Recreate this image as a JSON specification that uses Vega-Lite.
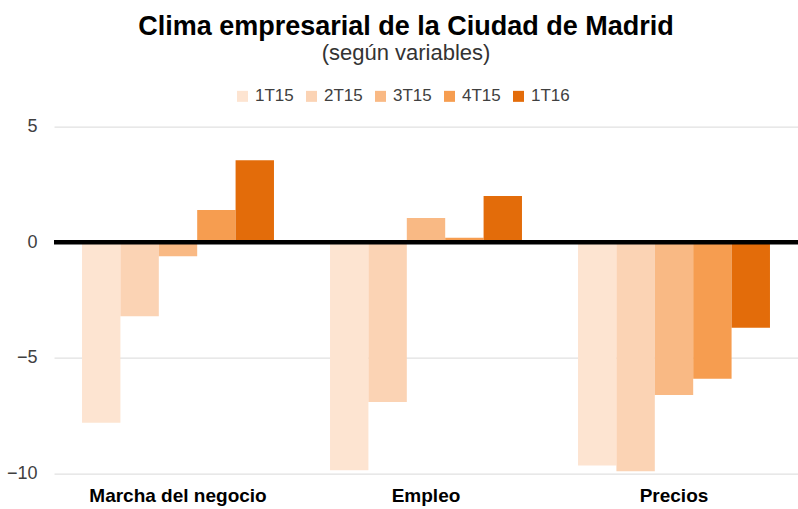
{
  "$schema": "https://vega.github.io/schema/vega-lite/v6.json",
  "width": 744,
  "height": 347,
  "autosize": {"type": "none"},
  "padding": {"left": 54, "top": 126.6, "right": 0, "bottom": 35.4},
  "background": "white",
  "title": {
    "text": "Clima empresarial de la Ciudad de Madrid",
    "subtitle": "(según variables)",
    "anchor": "middle",
    "dx": -20,
    "offset": 23,
    "font": "Liberation Sans",
    "fontSize": 27,
    "fontWeight": "bold",
    "color": "#000000",
    "subtitleFont": "Liberation Sans",
    "subtitleFontSize": 22,
    "subtitleColor": "#333333",
    "subtitlePadding": 2
  },
  "data": {
    "values": [
      {"variable": "Marcha del negocio", "periodo": "1T15", "valor": -7.8},
      {"variable": "Marcha del negocio", "periodo": "2T15", "valor": -3.2},
      {"variable": "Marcha del negocio", "periodo": "3T15", "valor": -0.6},
      {"variable": "Marcha del negocio", "periodo": "4T15", "valor": 1.4},
      {"variable": "Marcha del negocio", "periodo": "1T16", "valor": 3.55},
      {"variable": "Empleo", "periodo": "1T15", "valor": -9.85},
      {"variable": "Empleo", "periodo": "2T15", "valor": -6.9},
      {"variable": "Empleo", "periodo": "3T15", "valor": 1.05},
      {"variable": "Empleo", "periodo": "4T15", "valor": 0.2},
      {"variable": "Empleo", "periodo": "1T16", "valor": 2.0},
      {"variable": "Precios", "periodo": "1T15", "valor": -9.65},
      {"variable": "Precios", "periodo": "2T15", "valor": -9.9},
      {"variable": "Precios", "periodo": "3T15", "valor": -6.6},
      {"variable": "Precios", "periodo": "4T15", "valor": -5.9},
      {"variable": "Precios", "periodo": "1T16", "valor": -3.7}
    ]
  },
  "layer": [
    {
      "mark": {"type": "bar"},
      "encoding": {
        "x": {
          "field": "variable",
          "type": "nominal",
          "sort": ["Marcha del negocio", "Empleo", "Precios"],
          "scale": {"paddingInner": 0.226, "paddingOuter": 0.113},
          "axis": {
            "title": null,
            "domain": false,
            "ticks": false,
            "labelAngle": 0,
            "labelFont": "Liberation Sans",
            "labelFontSize": 19,
            "labelFontWeight": "bold",
            "labelColor": "#000000",
            "labelPadding": 13
          }
        },
        "xOffset": {
          "field": "periodo",
          "type": "nominal",
          "sort": ["1T15", "2T15", "3T15", "4T15", "1T16"]
        },
        "y": {
          "field": "valor",
          "type": "quantitative",
          "scale": {"domain": [-10, 5], "nice": false},
          "axis": {
            "title": null,
            "values": [-10, -5, 0, 5],
            "domain": false,
            "ticks": false,
            "grid": true,
            "gridColor": "#d9d9d9",
            "gridWidth": 1,
            "labelFont": "Liberation Sans",
            "labelFontSize": 18,
            "labelColor": "#404040",
            "labelPadding": 17
          }
        },
        "color": {
          "field": "periodo",
          "type": "nominal",
          "sort": ["1T15", "2T15", "3T15", "4T15", "1T16"],
          "scale": {
            "domain": ["1T15", "2T15", "3T15", "4T15", "1T16"],
            "range": ["#FDE4D1", "#FBD3B4", "#F9B984", "#F69D50", "#E36C0A"]
          },
          "legend": {
            "title": null,
            "orient": "none",
            "direction": "horizontal",
            "columns": 5,
            "legendX": 180,
            "legendY": -39,
            "symbolType": "square",
            "symbolSize": 121,
            "symbolStrokeWidth": 0,
            "labelFont": "Liberation Sans",
            "labelFontSize": 17,
            "labelColor": "#404040",
            "labelOffset": 4,
            "columnPadding": 9
          }
        }
      }
    },
    {
      "data": {"values": [{"cero": 0}]},
      "mark": {"type": "rule", "color": "#000000", "strokeWidth": 4.5},
      "encoding": {
        "y": {"field": "cero", "type": "quantitative"}
      }
    }
  ],
  "config": {
    "view": {"stroke": null},
    "font": "Liberation Sans"
  }
}
